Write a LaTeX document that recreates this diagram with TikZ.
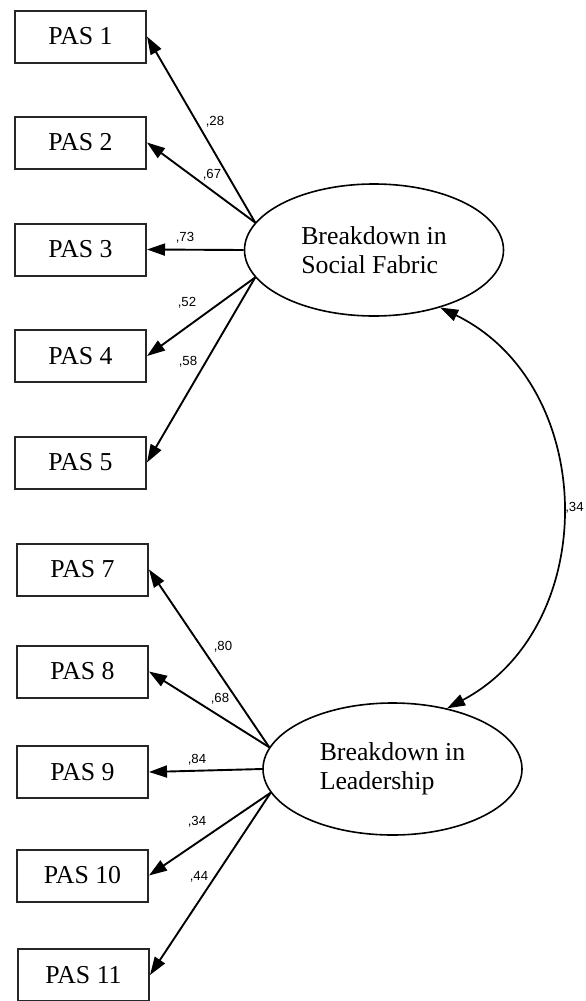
\documentclass[tikz,border=0pt]{standalone}
\usepackage{fontspec}
\setmainfont{Liberation Serif}
\newfontfamily\coeffont{Liberation Sans}
\usepackage{tikz}
\usetikzlibrary{shapes.geometric, arrows.meta}

\begin{document}
\begin{tikzpicture}[x=0.5pt, y=-0.5pt,
  item/.style={draw=black!85, line width=1pt, minimum width=65.5pt, minimum height=26pt, inner sep=0pt, font=\fontsize{12.9}{14.5}\selectfont},
  factor/.style={draw, ellipse, line width=0.8pt, minimum width=129.5pt, minimum height=66pt, inner sep=0pt, align=left, font=\fontsize{12.9}{14.5}\selectfont},
  load/.style={-{Triangle[length=9pt, width=6pt]}, line width=0.95pt},
  coef/.style={font=\coeffont\fontsize{6.6}{7}\selectfont, inner sep=0pt}]
  \useasboundingbox (0, 0) rectangle (585, 1001);

  % Social fabric items
  \node[item] (pas1) at (80.5, 36.5) {PAS 1};
  \node[item] (pas2) at (80.5, 142.5) {PAS 2};
  \node[item] (pas3) at (80.5, 249.5) {PAS 3};
  \node[item] (pas4) at (80.5, 356) {PAS 4};
  \node[item] (pas5) at (80.5, 462.5) {PAS 5};

  \node[factor] (fabric) at (374, 250) {Breakdown in\\Social Fabric};

  \draw[load] (fabric.167) -- (pas1.east);
  \draw[load] (fabric.167) -- (pas2.east);
  \draw[load] (fabric.west) -- (pas3.east);
  \draw[load] (fabric.193) -- (pas4.east);
  \draw[load] (fabric.193) -- (pas5.east);

  \node[coef] (w1) at (215, 122) {,28};
  \node[coef] (w2) at (212, 175) {,67};
  \node[coef] (w3) at (185, 238) {,73};
  \node[coef] (w4) at (187, 303) {,52};
  \node[coef] (w5) at (188, 362) {,58};

  % Leadership items
  \node[item] (pas7) at (82.5, 569.5) {PAS 7};
  \node[item] (pas8) at (82.5, 671.5) {PAS 8};
  \node[item] (pas9) at (82.5, 772) {PAS 9};
  \node[item] (pas10) at (82.5, 875.5) {PAS 10};
  \node[item] (pas11) at (83.5, 975) {PAS 11};

  \node[factor] (leader) at (392.5, 769) {Breakdown in\\Leadership};

  \draw[load] (leader.170) -- (pas7.east);
  \draw[load] (leader.170) -- (pas8.east);
  \draw[load] (leader.west) -- (pas9.east);
  \draw[load] (leader.191) -- (pas10.east);
  \draw[load] (leader.191) -- (pas11.east);

  \node[coef] (w7) at (223, 647) {,80};
  \node[coef] (w8) at (220, 699) {,68};
  \node[coef] (w9) at (197, 760) {,84};
  \node[coef] (w10) at (197, 822) {,34};
  \node[coef] (w11) at (199, 877) {,44};

  % Correlation between the factors
  \draw[{Triangle[length=9pt, width=6pt]}-{Triangle[length=9pt, width=6pt]}, line width=0.85pt]
    (fabric.319) to[bend left=63, looseness=1.12] (leader.48);
  \node[coef, anchor=east] (corr) at (584, 508) {,34};
\end{tikzpicture}
\end{document}
